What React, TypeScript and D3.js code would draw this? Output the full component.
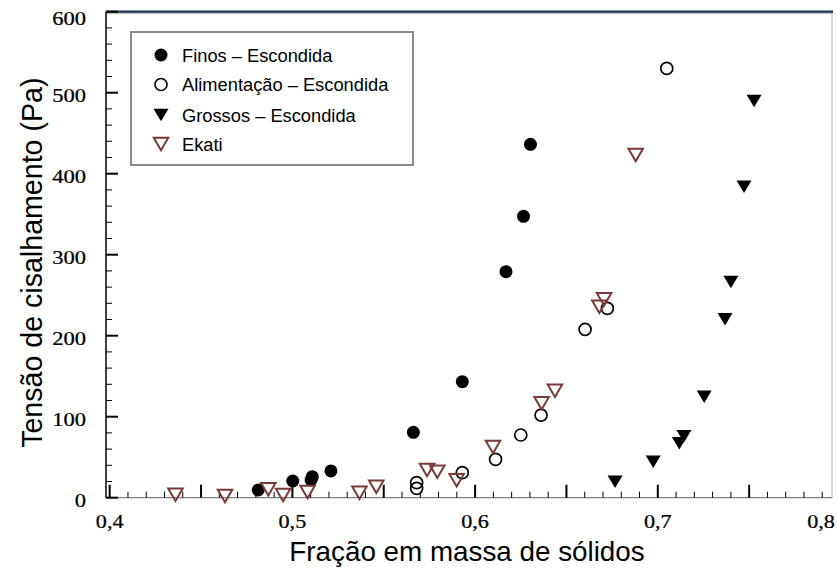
import React from 'react';
import * as d3 from 'd3';

// Finos – Escondida (filled circles)
const finosX = [0.4813, 0.5002, 0.5102, 0.5109, 0.5211, 0.5662, 0.593, 0.6169, 0.6265, 0.6303];
const finosY = [9.5, 20.6, 21.9, 25.9, 33, 80.7, 143.2, 279, 347.4, 436.3];

// Alimentação – Escondida (open circles)
const alimX = [0.568, 0.568, 0.593, 0.6112, 0.625, 0.6361, 0.6602, 0.6724, 0.7049];
const alimY = [11.6, 18.5, 30.9, 47.2, 77.4, 102, 207.7, 233.8, 530];

// Grossos – Escondida (filled down triangles)
const grossX = [0.6766, 0.6975, 0.7118, 0.7143, 0.7254, 0.7368, 0.74, 0.7472, 0.7527];
const grossY = [19.8, 44.4, 67.2, 76, 124.7, 220.2, 266.3, 384, 489.8];

// Ekati (open brown down triangles)
const ekatiX = [0.436, 0.4631, 0.4868, 0.4949, 0.5083, 0.5367, 0.5459, 0.5737, 0.5793, 0.5899, 0.6098, 0.6364, 0.6437, 0.668, 0.6706, 0.6879];
const ekatiY = [3.7, 2.1, 10.4, 3.3, 7, 6.2, 13.6, 34.2, 32.1, 21.5, 62.6, 116.5, 132.1, 235.8, 244.9, 423];

const xTickValues = [0.4, 0.5, 0.6, 0.7, 0.8];
const xTickLabels = ['0,4', '0,5', '0,6', '0,7', '0,8'];
const yTickValues = [0, 100, 200, 300, 400, 500, 600];
const yTickLabels = ['0', '100', '200', '300', '400', '500', '600'];

const legendLabels = ['Finos – Escondida', 'Alimentação – Escondida', 'Grossos – Escondida', 'Ekati'];

const EKATI_COLOR = '#7a3a3a';

export default function App() {
  const W = 837;
  const H = 569;
  const left = 106;
  const right = 832;
  const top = 11.7;
  const bottom = 497.7;

  const x = d3.scaleLinear().domain([0.4, 0.8]).range([109.7, 840.5]);
  const y = d3.scaleLinear().domain([0, 600]).range([bottom, top]);

  const xMinor = d3.range(40, 80).map((i) => ({ v: i / 100, major: i % 5 === 0 }));
  const yMinor = d3.range(0, 31).map((i) => ({ v: i * 20, major: i % 5 === 0 }));

  const tri = (w: number, h: number) => `M${-w / 2},${-h / 2}L${w / 2},${-h / 2}L0,${h / 2}Z`;

  const serif = '"Liberation Serif", "Times New Roman", serif';
  const sans = '"Liberation Sans", Arial, sans-serif';

  const legendRowY = [55, 84.5, 115, 144];

  const marker = (k: number, cx: number, cy: number, key?: string) => {
    if (k === 0) return <circle key={key} cx={cx} cy={cy} r={6.5} fill="#000" />;
    if (k === 1) return <circle key={key} cx={cx} cy={cy} r={6} fill="none" stroke="#000" strokeWidth={1.7} />;
    if (k === 2) return <path key={key} d={tri(15, 12.5)} transform={`translate(${cx},${cy})`} fill="#000" />;
    return <path key={key} d={tri(14.5, 12.5)} transform={`translate(${cx},${cy})`} fill="none" stroke={EKATI_COLOR} strokeWidth={2} strokeLinejoin="miter" />;
  };

  const series = [
    { k: 0, xs: finosX, ys: finosY },
    { k: 1, xs: alimX, ys: alimY },
    { k: 2, xs: grossX, ys: grossY },
    { k: 3, xs: ekatiX, ys: ekatiY },
  ];

  return (
    <svg width={W} height={H} style={{ position: 'absolute', left: 0, top: 0, background: '#fff' }}>
      <rect x={0} y={0} width={W} height={H} fill="#fff" />
      {/* plot frame */}
      <line x1={right} y1={top} x2={right} y2={bottom} stroke="#b0b0b0" strokeWidth={1} />
      <line x1={left} y1={bottom} x2={right} y2={bottom} stroke="#808080" strokeWidth={1.2} />
      <line x1={left} y1={top + 1.5} x2={right + 1} y2={top + 1.5} stroke="#9a9a9a" strokeWidth={1} />
      <line x1={left} y1={top} x2={right + 1} y2={top} stroke="#1c3350" strokeWidth={2.2} />

      {/* x ticks */}
      {xMinor.map((t, i) => (
        <line key={'xt' + i} x1={x(t.v)} x2={x(t.v)} y1={bottom} y2={bottom - (t.major ? 13 : 6)} stroke="#000" strokeWidth={t.major ? 2 : 1} />
      ))}
      {/* y ticks */}
      {yMinor.map((t, i) => (
        <line key={'yt' + i} x1={left} x2={left + (t.major ? 12 : 6)} y1={y(t.v)} y2={y(t.v)} stroke="#000" strokeWidth={t.major ? 2 : 1} />
      ))}
      <line x1={left} y1={top} x2={left} y2={bottom} stroke="#000" strokeWidth={1.5} />

      {/* x tick labels */}
      {xTickValues.map((v, i) => {
        const px = Math.min(x(v), 821);
        return (
          <g key={'xl' + i} transform={`translate(${px},528) scale(1.2,1)`}>
            <text textAnchor="middle" fontFamily={serif} fontSize={18.5} fill="#000" stroke="#000" strokeWidth={0.25}>{xTickLabels[i]}</text>
          </g>
        );
      })}
      {/* y tick labels */}
      {yTickValues.map((v, i) => (
        <g key={'yl' + i} transform={`translate(86,${Math.max(y(v), 15) + 9.5}) scale(1.22,1)`}>
          <text textAnchor="end" fontFamily={serif} fontSize={18.5} fill="#000" stroke="#000" strokeWidth={0.25}>{yTickLabels[i]}</text>
        </g>
      ))}

      {/* axis titles */}
      <text x={467} y={561} textAnchor="middle" fontFamily={sans} fontSize={27.8} fill="#000">Fração em massa de sólidos</text>
      <text transform={`translate(41.5,${(top + bottom) / 2 + 8}) rotate(-90)`} textAnchor="middle" fontFamily={sans} fontSize={28.6} fill="#000">Tensão de cisalhamento (Pa)</text>

      {/* data */}
      {series.map((s) => s.xs.map((xv, i) => marker(s.k, x(xv), y(s.ys[i]), `m${s.k}-${i}`)))}

      {/* legend */}
      <rect x={131} y={32} width={282} height={133} fill="#fff" stroke="#8a8a8a" strokeWidth={2} />
      {legendLabels.map((lab, i) => (
        <g key={'lg' + i}>
          {marker(i, 161, legendRowY[i])}
          <text x={182} y={legendRowY[i] + 6.5} fontFamily={sans} fontSize={18.3} fill="#000">{lab}</text>
        </g>
      ))}
    </svg>
  );
}
